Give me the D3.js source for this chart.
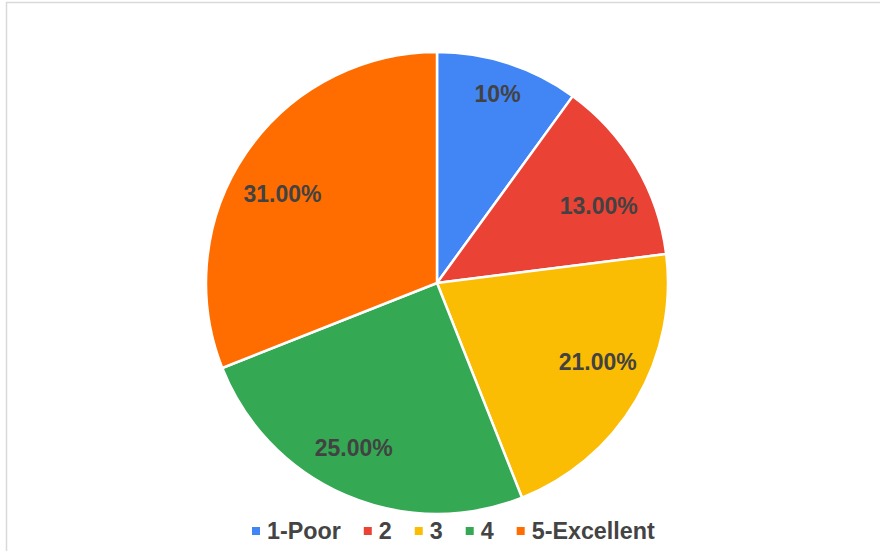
<!DOCTYPE html>
<html>
<head>
<meta charset="utf-8">
<script src="https://cdn.jsdelivr.net/npm/d3@7"></script>
<style>
  html, body { margin: 0; padding: 0; background: #fff; }
  svg { display: block; }
  text { font-family: "Liberation Sans", Arial, sans-serif; font-weight: bold; }
</style>
</head>
<body>
<svg id="chart" width="880" height="551"></svg>
<script>
// Ratings breakdown
const categories = ["1-Poor", "2", "3", "4", "5-Excellent"];
const values = [10, 13, 21, 25, 31];
const valueLabels = ["10%", "13.00%", "21.00%", "25.00%", "31.00%"];
const colors = ["#4285f4", "#ea4335", "#fbbc04", "#34a853", "#ff6d01"];

const width = 880, height = 551;
const cx = 437, cy = 283, radius = 231;

// small per-slice nudges so labels sit clear of slice edges
const labelNudge = [[0, -3], [5, 16], [4, -14], [-11, -2], [-4, 13]];

const svg = d3.select("#chart");

// chart frame
svg.append("rect")
  .attr("x", 6.5).attr("y", 2.5)
  .attr("width", width + 20).attr("height", height + 20)
  .attr("fill", "#fff")
  .attr("stroke", "#d9d9d9")
  .attr("stroke-width", 1.5);

const color = d3.scaleOrdinal().domain(categories).range(colors);

const pie = d3.pie().sort(null).value(d => d.value);
const data = categories.map((c, i) => ({ category: c, value: values[i], label: valueLabels[i], idx: i }));
const arcs = pie(data);

const arc = d3.arc().innerRadius(0).outerRadius(radius);

const g = svg.append("g").attr("transform", `translate(${cx},${cy})`);

g.selectAll("path.slice")
  .data(arcs)
  .join("path")
  .attr("class", "slice")
  .attr("d", arc)
  .attr("fill", d => color(d.data.category))
  .attr("stroke", "#fff")
  .attr("stroke-width", 2.5)
  .attr("stroke-linejoin", "round");

// value labels: narrow slices push the label further out
const labelArc = d => {
  const share = (d.endAngle - d.startAngle) / (2 * Math.PI);
  const r = share < 0.12 ? 196 : 182;
  return d3.arc().innerRadius(r).outerRadius(r);
};

g.selectAll("text.value")
  .data(arcs)
  .join("text")
  .attr("class", "value")
  .attr("transform", d => {
    const [x, y] = labelArc(d).centroid(d);
    const [nx, ny] = labelNudge[d.data.idx];
    return `translate(${x + nx},${y + ny})`;
  })
  .attr("text-anchor", "middle")
  .attr("dy", "0.35em")
  .attr("font-size", 23)
  .attr("fill", "#424242")
  .text(d => d.data.label);

// legend
const legend = svg.append("g").attr("transform", "translate(252,531)");
let x = 0;
categories.forEach((c, i) => {
  const item = legend.append("g").attr("transform", `translate(${x},0)`);
  item.append("rect")
    .attr("x", 0).attr("y", -4)
    .attr("width", 8).attr("height", 8)
    .attr("fill", color(c));
  const t = item.append("text")
    .attr("x", 15)
    .attr("dy", "0.36em")
    .attr("font-size", 23.3)
    .attr("fill", "#444")
    .text(c);
  x += 15 + t.node().getComputedTextLength() + 23;
});
</script>
</body>
</html>
